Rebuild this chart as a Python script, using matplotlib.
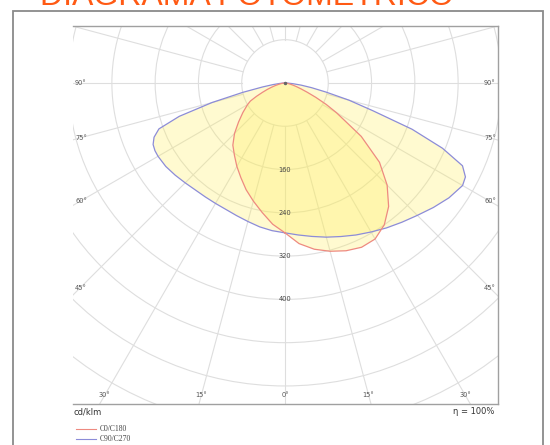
import numpy as np
import matplotlib
matplotlib.use("Agg")
import matplotlib.pyplot as plt
from matplotlib.lines import Line2D
from matplotlib.patches import Rectangle, Circle

# gamma angles (deg, 0 = straight down) and intensities (cd/klm)
GAMMA = [0, 5, 10, 15, 20, 25, 30, 35, 40, 45, 50, 55, 60,
         62.5, 65, 67.5, 70, 72.5, 75, 77.5, 80, 82.5, 85, 87.5, 90]
C0 = [277, 298, 312, 322, 330, 335, 333, 320, 298, 267, 228, 172, 110,
      86, 63, 44, 31, 22, 15, 10, 6, 4, 2, 1, 0]
C180 = [277, 262, 243, 226, 210, 193, 178, 163, 150, 132, 112, 95, 80,
        72, 58, 45, 35, 26, 19, 13, 9, 6, 3, 1, 0]
C90 = [277, 282, 288, 295, 302, 310, 318, 327, 336, 346, 358, 370, 379,
       376, 362, 315, 250, 170, 122, 78, 50, 30, 15, 6, 0]
C270 = [277, 274, 270, 265, 261, 258, 257, 257, 258, 261, 265, 269, 271,
        271, 269, 262, 248, 205, 140, 80, 42, 22, 10, 4, 0]

RINGS = [80, 160, 240, 320, 400, 480, 560, 640, 720]
RING_LABELS = [160, 240, 320, 400]
SIDE_ANGLES = [90, 75, 60, 45]
BOTTOM_ANGLES = [-30, -15, 0, 15, 30]

TITLE = "DIAGRAMA FOTOMÉTRICO"
RED = "#EE8A80"
BLUE = "#8C8CD8"
GRID = "#DEDEDE"

W, H = 550, 445
X0, X1, Y0, Y1 = 73, 498, 26, 404     # plot frame in pixels
CX, CY = 285, 83                      # luminaire centre in pixels
PX = 0.541                            # pixels per cd/klm


def half_plane_curve(right, left):
    g = np.radians(GAMMA)
    r1, r2 = np.array(right, float), np.array(left, float)
    xs = np.concatenate([r1 * np.sin(g), (-r2 * np.sin(g))[::-1]])
    ys = np.concatenate([-r1 * np.cos(g), (-r2 * np.cos(g))[::-1]])
    return xs, ys


fig = plt.figure(figsize=(W / 100, H / 100), dpi=100)
ax = fig.add_axes([X0 / W, 1 - Y1 / H, (X1 - X0) / W, (Y1 - Y0) / H])
xmin, xmax = -(CX - X0) / PX, (X1 - CX) / PX
ymin, ymax = -(Y1 - CY) / PX, (CY - Y0) / PX
ax.set_xlim(xmin, xmax)
ax.set_ylim(ymin, ymax)
ax.set_xticks([])
ax.set_yticks([])
for side in ["top", "right", "bottom"]:
    ax.spines[side].set_color("#a0a0a0")
    ax.spines[side].set_linewidth(1.0)
ax.spines["left"].set_visible(False)

# grid: rings and 15 degree spokes starting at the first ring
for r in RINGS:
    ax.add_patch(Circle((0, 0), r, fill=False, ec=GRID, lw=0.8, zorder=1))
for a in range(0, 360, 15):
    t = np.radians(a)
    ax.plot([80 * np.sin(t), 1200 * np.sin(t)], [-80 * np.cos(t), -1200 * np.cos(t)],
            color=GRID, lw=0.8, zorder=1)

# curves
for right, left, col in [(C90, C270, BLUE), (C0, C180, RED)]:
    xs, ys = half_plane_curve(right, left)
    ax.fill(xs, ys, color="#FFEE58", alpha=0.28, lw=0, zorder=2)
    ax.plot(np.append(xs, xs[0]), np.append(ys, ys[0]), color=col, lw=0.9, zorder=3)
ax.plot([0], [0], marker="o", ms=1.5, color="#666666", zorder=4)

# ring labels
for r in RING_LABELS:
    ax.text(0, -r, str(r), ha="center", va="center", fontsize=4.8, color="#444444", zorder=5)

# angle labels where the spokes reach the (inset) frame
inset_x = 8 / PX
inset_y = 9 / PX
for a in SIDE_ANGLES:
    y = -(xmax - inset_x) / np.tan(np.radians(a)) if a != 90 else 0
    ax.text(xmin + inset_x, y, f"{a}°", ha="center", va="center", fontsize=4.8, color="#555555")
    ax.text(xmax - inset_x, y, f"{a}°", ha="center", va="center", fontsize=4.8, color="#555555")
for a in BOTTOM_ANGLES:
    yb = ymin + inset_y
    x = -yb * np.tan(np.radians(a))
    ax.text(x, yb, f"{abs(a)}°", ha="center", va="center", fontsize=4.8, color="#555555")

# texts under the plot
fig.text(X0 / W, 1 - 412 / H, "cd/klm", ha="left", va="center", fontsize=6, color="#333333")
fig.text(494 / W, 1 - 412 / H, "η = 100%", ha="right", va="center", fontsize=6, color="#333333")

# legend
for yy, col, lab in [(429, RED, "C0/C180"), (439, BLUE, "C90/C270")]:
    fig.add_artist(Line2D([76 / W, 96 / W], [1 - yy / H, 1 - yy / H], color=col, lw=0.8,
                          transform=fig.transFigure))
    fig.text(100 / W, 1 - yy / H, lab, ha="left", va="center", fontsize=5.5,
             family="Liberation Serif", color="#444444")

# outer box and cut-off title
fig.add_artist(Rectangle((13 / W, -0.1), (543 - 13) / W, 1.1 - 11 / H, transform=fig.transFigure,
                         fill=False, ec="#8a8a8a", lw=1.3))
fig.text(40 / W, 1 - 5 / H, TITLE, ha="left", va="baseline", fontsize=23,
         family="Liberation Sans", color="#FF5A14")

fig.savefig("out.png", dpi=100)
